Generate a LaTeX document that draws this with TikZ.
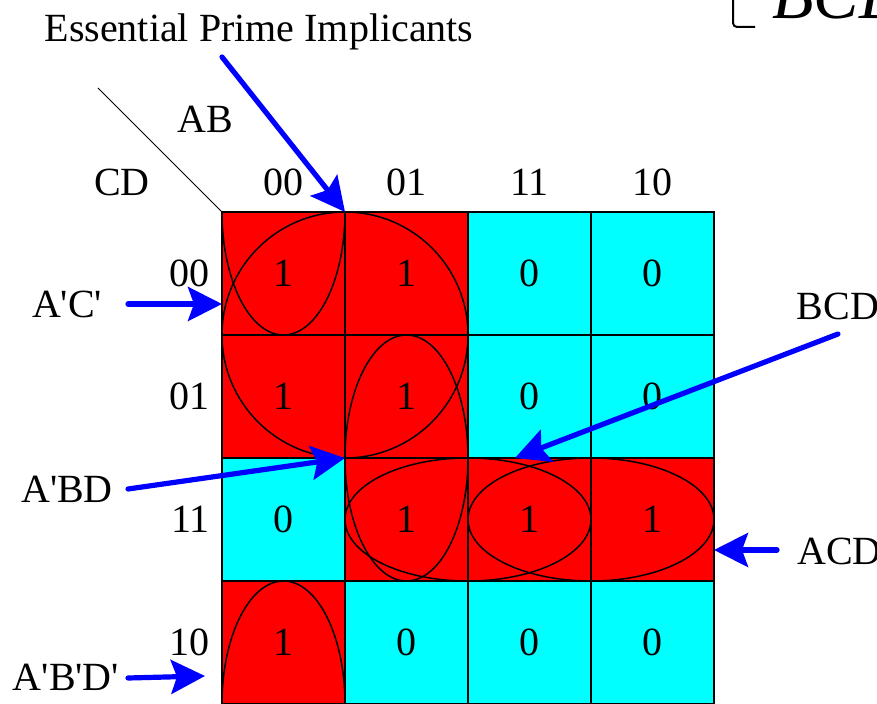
\documentclass[tikz,border=0pt]{standalone}
\usepackage{fontspec}
\newfontfamily\kmapfont{Liberation Serif}
\usetikzlibrary{arrows.meta,positioning}
\definecolor{kmap1}{RGB}{255,0,0}
\definecolor{kmap0}{RGB}{0,255,255}
\definecolor{pointblue}{RGB}{0,0,255}

\begin{document}
\begin{tikzpicture}[x=0.5pt,y=-0.5pt,
   every node/.style={font=\kmapfont\fontsize{20}{24}\selectfont,inner sep=0pt},
   cell/.style={draw,line width=0.75pt,minimum size=61.5pt,outer sep=0pt},
   implicant/.style={draw,line width=0.75pt},
   pointer/.style={-{Stealth[length=17pt,width=17pt,inset=3pt]},draw=pointblue,
     line width=2.6pt,line cap=round}]
  \useasboundingbox (0,0) rectangle (877,704);
  % map cells, rows CD = 00,01,11,10
  \foreach \row/\vals in {0/{1,1,0,0},1/{1,1,0,0},2/{0,1,1,1},3/{1,0,0,0}} {
    \foreach \v [count=\col from 0] in \vals
      \node[cell,fill=kmap\v] (c\row\col) at (283.5+123*\col,273.5+123*\row) {\v};
  }
  % groups
  \begin{scope}
    \clip (c00.north west) rectangle (c33.south east);
    \draw[implicant] (c00.south east) circle [radius=123];
    \draw[implicant] (c00.north) ellipse [x radius=61.5,y radius=123];
    \draw[implicant] (c30.south) ellipse [x radius=61.5,y radius=123];
    \draw[implicant] (c11.south) ellipse [x radius=61.5,y radius=123];
    \draw[implicant] (c21.east) ellipse [x radius=123,y radius=61.5];
    \draw[implicant] (c22.east) ellipse [x radius=123,y radius=61.5];
  \end{scope}
  % headings
  \foreach \t [count=\k from 0] in {00,01,11,10} {
    \node (col\k) at (283.5+123*\k,182) {\t};
    \node[anchor=east] (row\k) at (210,273.5+123*\k) {\t};
  }
  \node (ab) at (205,119) {AB};
  \node (cd) at (122,182) {CD};
  \coordinate (slash) at (98,88);
  \draw[line width=0.5pt] (slash) -- (c00.north west);
  % labels
  \node[anchor=base] (epi) at (259,42) {Essential Prime Implicants};
  \node[anchor=base] (lAC) at (67,318) {A'C'};
  \node[anchor=base] (lABD) at (67,503) {A'BD};
  \node[anchor=base] (lABnDn) at (66,690) {A'B'D'};
  \node[anchor=base] (lBCD) at (838,320) {BCD};
  \node[anchor=base west] (lACD) at (797,565) {ACD};
  \node[anchor=base west,font=\kmapfont\itshape\fontsize{34}{40}\selectfont]
    (cutoff) at (772,19) {BCD};
  \draw[line width=1pt,rounded corners=2pt] (733,0) -- (733,27) -- (755,27);
  % arrows
  \coordinate (tEPI) at (222,57);
  \coordinate (tAC) at (128,304);
  \coordinate (tABD) at (128,489);
  \coordinate (tABnDn) at (128,678);
  \coordinate (hABnDn) at (205,676);
  \coordinate (tBCD) at (838,334);
  \coordinate (hBCD) at (515,458);
  \coordinate (tACD) at (777,550);
  \draw[pointer] (tEPI) -- (c00.north east);
  \draw[pointer] (tAC) -- (tAC -| c00.west);
  \draw[pointer] (tABD) -- (c11.south west);
  \draw[pointer] (tABnDn) -- (hABnDn);
  \draw[pointer] (tBCD) -- (hBCD);
  \draw[pointer] (tACD) -- (tACD -| c23.east);
\end{tikzpicture}
\end{document}
